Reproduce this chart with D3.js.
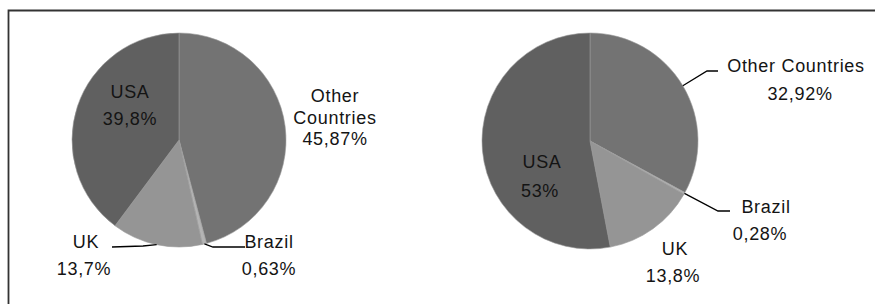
<!DOCTYPE html>
<html lang="en">
<head>
<meta charset="UTF-8">
<title>Pie charts</title>
<script src="https://cdn.jsdelivr.net/npm/d3@7"></script>
<style>
    body { margin: 0; background: #fff; }
    svg { display: block; }
    text { font-family: "Liberation Sans", Arial, sans-serif; font-size: 18px; letter-spacing: 0.7px; fill: #141414; }
</style>
</head>
<body>
<div id="chart"></div>
<script>
// slice order, clockwise from 12 o'clock
const categories = ["Other Countries", "Brazil", "UK", "USA"];
const leftValues = [45.87, 0.63, 13.7, 39.8];
const rightValues = [32.92, 0.28, 13.8, 53];
const leftLabels = ["45,87%", "0,63%", "13,7%", "39,8%"];
const rightLabels = ["32,92%", "0,28%", "13,8%", "53%"];

const colors = d3.scaleOrdinal()
    .domain(categories)
    .range(["#737373", "#b4b4b4", "#959595", "#606060"]);

const width = 875;
const height = 304;

const svg = d3.select("#chart").append("svg")
    .attr("width", width)
    .attr("height", height);

// frame, open on the right and bottom like the source crop
svg.append("path")
    .attr("d", `M8.5,${height} V10.5 H${width}`)
    .attr("fill", "none")
    .attr("stroke", "#333")
    .attr("stroke-width", 1.8);

// label placement per slice: name lines, value offset, optional leader elbow/end
const leftLayout = [
    { lines: ["Other", "Countries"], dx: 156, dy: -38, lh: 21.5, vdx: 0 },
    { lines: ["Brazil"], dx: 90, dy: 108, lh: 27, vdx: 0, leader: [[34, 107], [66, 107]] },
    { lines: ["UK"], dx: -93, dy: 108, lh: 27, vdx: -2, leader: [[-36, 106], [-67, 107]] },
    { lines: ["USA"], dx: -49, dy: -42, lh: 27, vdx: 0 }
];
const rightLayout = [
    { lines: ["Other Countries"], dx: 206, dy: -69, lh: 28, vdx: 4, leader: [[117, -70], [128, -70]] },
    { lines: ["Brazil"], dx: 176, dy: 72, lh: 27, vdx: -6, leader: [[128, 70], [140, 70]] },
    { lines: ["UK"], dx: 85, dy: 114, lh: 27, vdx: -2 },
    { lines: ["USA"], dx: -48, dy: 27, lh: 29, vdx: -2 }
];

function drawPie(cx, cy, radius, values, labels, layout) {
    const g = svg.append("g").attr("transform", `translate(${cx},${cy})`);

    const pie = d3.pie().sort(null).value(d => d.value);
    const arc = d3.arc().innerRadius(0).outerRadius(radius);
    const data = pie(categories.map((c, i) => ({ name: c, value: values[i], label: labels[i], layout: layout[i] })));

    g.selectAll("path.slice")
        .data(data)
        .enter()
        .append("path")
        .attr("class", "slice")
        .attr("d", arc)
        .attr("fill", d => colors(d.data.name))
        .attr("stroke", "#9a9a9a")
        .attr("stroke-width", 0.6);

    // leader lines start on the rim at the slice's mid angle
    const withLeader = data.filter(d => d.data.layout.leader);
    g.selectAll("path.leader")
        .data(withLeader)
        .enter()
        .append("path")
        .attr("class", "leader")
        .attr("fill", "none")
        .attr("stroke", "#000")
        .attr("stroke-width", 1.3)
        .attr("d", d => {
            const mid = (d.startAngle + d.endAngle) / 2;
            const start = [Math.sin(mid) * radius, -Math.cos(mid) * radius];
            return d3.line()([start, ...d.data.layout.leader]);
        });

    const labelsG = g.selectAll("g.label")
        .data(data)
        .enter()
        .append("g")
        .attr("class", "label")
        .attr("transform", d => `translate(${d.data.layout.dx},${d.data.layout.dy})`);

    labelsG.each(function (d) {
        const lg = d3.select(this);
        const L = d.data.layout;
        L.lines.forEach((line, i) => {
            lg.append("text")
                .attr("text-anchor", "middle")
                .attr("y", i * 21.5)
                .text(line);
        });
        lg.append("text")
            .attr("text-anchor", "middle")
            .attr("x", L.vdx)
            .attr("y", (L.lines.length - 1) * 21.5 + L.lh)
            .text(d.data.label);
    });
}

drawPie(179, 140, 107, leftValues, leftLabels, leftLayout);
drawPie(590, 141, 108, rightValues, rightLabels, rightLayout);
</script>
</body>
</html>
